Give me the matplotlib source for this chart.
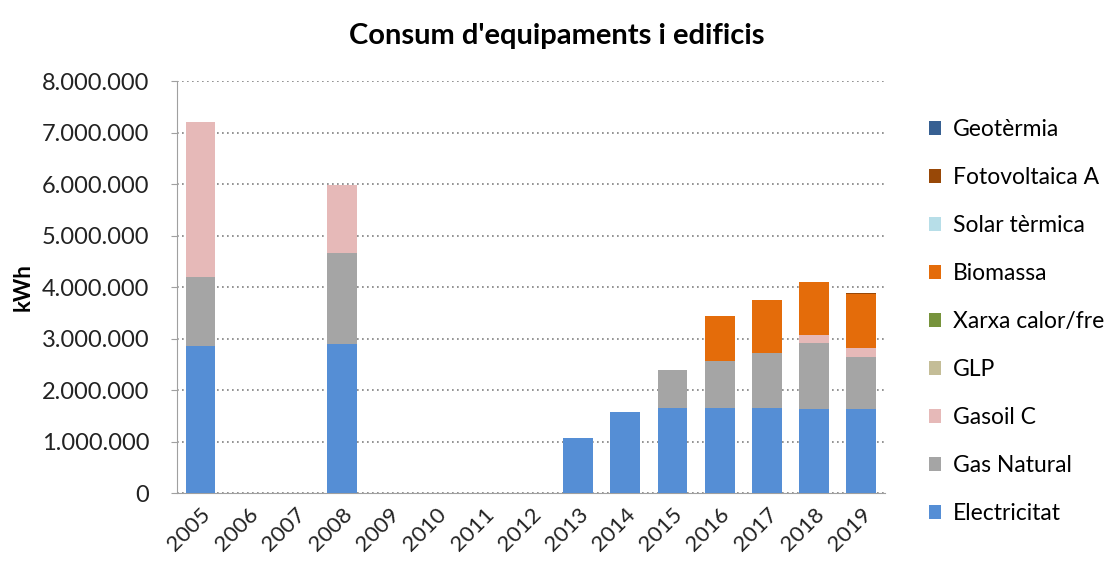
import numpy as np
import matplotlib.pyplot as plt
from matplotlib.ticker import FuncFormatter, MultipleLocator

plt.rcParams['font.family'] = ['Lato', 'DejaVu Sans']

years = [str(y) for y in range(2005, 2020)]

# kWh
electricitat = [2850000, 0, 0, 2900000, 0, 0, 0, 0, 1070000, 1570000, 1650000, 1660000, 1660000, 1640000, 1640000]
gas_natural = [1350000, 0, 0, 1760000, 0, 0, 0, 0, 0, 0, 740000, 900000, 1060000, 1270000, 1000000]
gasoil_c = [3000000, 0, 0, 1320000, 0, 0, 0, 0, 0, 0, 0, 0, 0, 160000, 180000]
glp = [0] * 15
xarxa = [0] * 15
biomassa = [0, 0, 0, 0, 0, 0, 0, 0, 0, 0, 0, 880000, 1030000, 1030000, 1040000]
solar = [0] * 15
fotovoltaica = [0] * 14 + [25000]
geotermia = [0] * 15

# legend labels as they show in the picture (cut at the right edge there)
series = [
    ('Electricitat', electricitat, '#558ed5'),
    ('Gas Natural', gas_natural, '#a5a5a5'),
    ('Gasoil C', gasoil_c, '#e6b9b8'),
    ('GLP', glp, '#c4bd97'),
    ('Xarxa calor/fre', xarxa, '#77933c'),
    ('Biomassa', biomassa, '#e46c0a'),
    ('Solar tèrmica', solar, '#b7dee8'),
    ('Fotovoltaica A', fotovoltaica, '#984807'),
    ('Geotèrmia', geotermia, '#376092'),
]

fig = plt.figure(figsize=(11.13, 5.67), dpi=100)
ax = fig.add_axes([0.159, 0.1305, 0.636, 0.7265])

x = np.arange(len(years))
bottom = np.zeros(len(years))
for name, vals, col in series:
    vals = np.array(vals, dtype=float)
    ax.bar(x, vals, 0.63, bottom=bottom, color=col, label=name, zorder=3)
    bottom += vals

ax.set_xlim(-0.5, len(years) - 0.5)
ax.set_ylim(0, 8000000)
ax.yaxis.set_major_locator(MultipleLocator(1000000))
ax.yaxis.set_major_formatter(FuncFormatter(lambda v, p: f'{int(v):,}'.replace(',', '.')))
ax.grid(axis='y', linestyle=(0, (1, 2)), color='#808080', linewidth=1.2, zorder=0)

ax.set_xticks(x)
ax.set_xticklabels(years, rotation=45, ha='right', rotation_mode='anchor')
ax.tick_params(axis='y', labelsize=17, length=4, color='#a0a0a0', labelcolor='#222222', pad=16)
ax.tick_params(axis='x', labelsize=16, length=0, labelcolor='#222222', pad=8)

for s in ['top', 'right']:
    ax.spines[s].set_visible(False)
ax.spines['left'].set_color('#a0a0a0')
ax.spines['bottom'].set_color('#a0a0a0')

ax.set_ylabel('kWh', fontsize=16, fontweight='bold', labelpad=6)
fig.suptitle("Consum d'equipaments i edificis", fontsize=21, fontweight='bold', x=0.5, y=0.96)

handles, labels = ax.get_legend_handles_labels()
fig.legend(handles[::-1], labels[::-1], loc='upper left', bbox_to_anchor=(0.826, 0.806),
           frameon=False, fontsize=16.5, handlelength=0.55, handleheight=0.55,
           handletextpad=0.5, labelspacing=1.18, borderaxespad=0)

fig.savefig('out.png', dpi=100)
